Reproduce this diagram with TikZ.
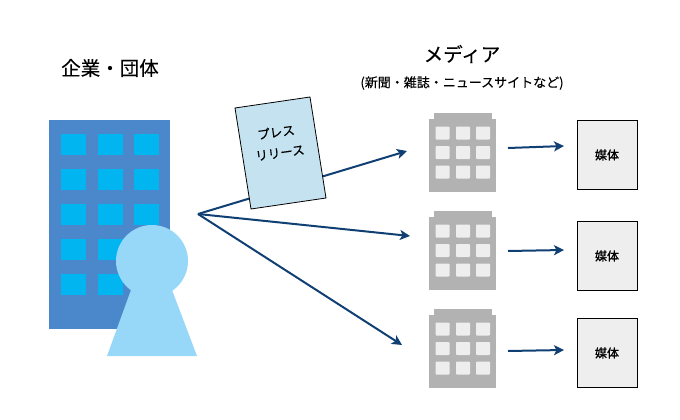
\documentclass[tikz,border=0pt]{standalone}
\usepackage{fontspec}
\setmainfont{Noto Sans CJK JP}[FakeBold=0.25]
\newfontfamily\boldcjk{Noto Sans CJK JP}[FakeBold=0.8]
\usetikzlibrary{arrows.meta}
\definecolor{bldg}{HTML}{4A88CB}
\definecolor{win}{HTML}{00B5F0}
\definecolor{person}{HTML}{97D8F9}
\definecolor{paper}{HTML}{C5E2F0}
\definecolor{gbldg}{HTML}{B2B2B2}
\definecolor{gwin}{HTML}{EEEEEE}
\definecolor{arrowc}{HTML}{0F3F73}
\tikzset{
  x=1pt,y=-1pt,
  flow/.style={draw=arrowc,line width=2pt,-{Stealth[length=10pt,width=10pt,inset=2.5pt]}},
  bluewin/.style={fill=win,draw=none,minimum width=25pt,minimum height=21pt,inner sep=0pt},
  graywin/.style={fill=gwin,draw=none,minimum width=14pt,minimum height=13pt,inner sep=0pt,rounded corners=0.8pt},
  mediabox/.style={draw=black,line width=1pt,fill=gwin,minimum width=60pt,minimum height=69pt,inner sep=0pt,font=\boldcjk\fontsize{12}{14}\selectfont},
  title/.style={font=\fontsize{19.5}{23}\selectfont,inner sep=0pt},
}
\begin{document}
\begin{tikzpicture}
\useasboundingbox (0,0) rectangle (680,420);
% company building
\node[fill=bldg,minimum width=121pt,minimum height=209pt,inner sep=0pt] (company) at (109.5,224.5) {};
\foreach \row/\yy in {1/144.5,2/179.5,3/214.5,4/249.5,5/284.5}
  \foreach \col/\xx in {1/73.5,2/110.5,3/146.5}
    \node[bluewin] (w\row\col) at (\xx,\yy) {};
% person
\fill[person] (131,290) -- (172,290) -- (197,356) -- (107,356) -- cycle;
\node[circle,fill=person,minimum size=72pt,inner sep=0pt] (head) at (152,261) {};
\node[title] (org) at (110,68) {企業・団体};
% source
\coordinate (src) at (198,214);
\coordinate (e1) at (407,151);
\coordinate (e2) at (410,236);
\coordinate (e3) at (402,345);
\draw[flow] (src) -- (e1);
\draw[flow] (src) -- (e2);
\draw[flow] (src) -- (e3);
% press release
\draw[draw=black,line width=0.8pt,fill=paper] (235,108) -- (310,97) -- (326,198) -- (251,209) -- cycle;
\node[rotate=8,font=\fontsize{12.5}{14}\selectfont,inner sep=0pt] (pr1) at (276,132) {プレス};
\node[rotate=8,font=\fontsize{12.5}{14}\selectfont,inner sep=0pt] (pr2) at (280,153) {リリース};
% media heading
\node[title] (med) at (462,54) {メディア};
\node[font=\fontsize{13}{15}\selectfont,inner sep=0pt] (medsub) at (462,83) {(新聞・雑誌・ニュースサイトなど)};
% media rows
\foreach \i/\dy/\ma/\mb/\my in {1/0/148/146/155, 2/98/251/250/256, 3/196/351/350/353}{
  \fill[gbldg] (429,119+\dy) rectangle (496,192+\dy);
  \fill[gbldg] (434,113+\dy) rectangle (492,119+\dy);
  \foreach \yy in {133,152.5,172}
    \foreach \xx in {442.5,463,483}
      \node[graywin] at (\xx,\yy+\dy) {};
  \coordinate (gs\i) at (508,\ma);
  \coordinate (ge\i) at (564,\mb);
  \draw[flow] (gs\i) -- (ge\i);
  \node[mediabox] (box\i) at (607,\my) {媒体};
}
\end{tikzpicture}
\end{document}
